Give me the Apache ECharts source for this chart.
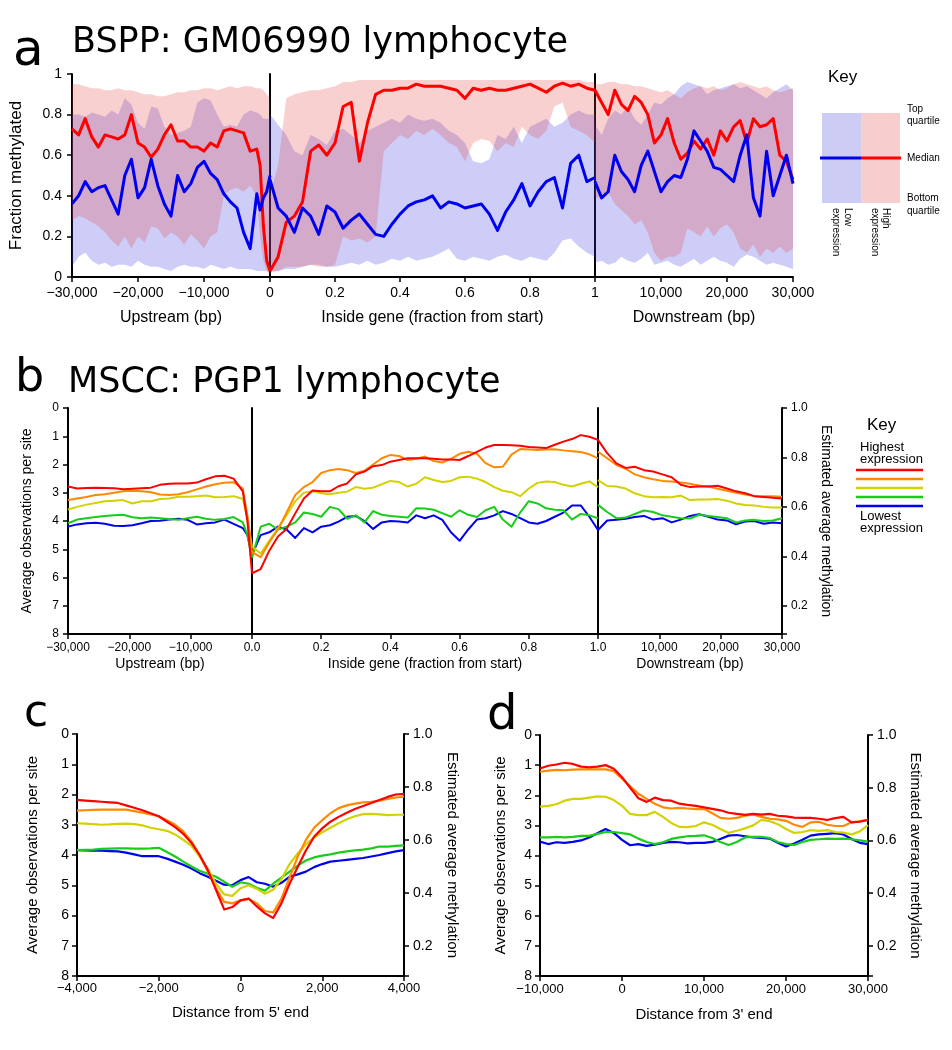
<!DOCTYPE html>
<html><head><meta charset="utf-8">
<script src="https://cdn.jsdelivr.net/npm/echarts/dist/echarts.min.js"></script>
<style>html,body{margin:0;padding:0;background:#fff}#chart{width:952px;height:1050px}</style>
</head><body><div id="chart"></div>
<script>
// ---------------- Panel a (BSPP) ----------------
const aUpX = [-30000,-29000,-28000,-27000,-26000,-25000,-24000,-23000,-22000,-21000,-20000,-19000,-18000,-17000,-16000,-15000,-14000,-13000,-12000,-11000,-10000,-9000,-8000,-7000,-6000,-5000,-4000,-3000,-2000,-1500,-1000,-500,0];
const aInX = [0,0.025,0.05,0.075,0.1,0.125,0.15,0.175,0.2,0.225,0.25,0.275,0.3,0.325,0.35,0.375,0.4,0.425,0.45,0.475,0.5,0.525,0.55,0.575,0.6,0.625,0.65,0.675,0.7,0.725,0.75,0.775,0.8,0.825,0.85,0.875,0.9,0.925,0.95,0.975,1];
const aDnX = [0,1000,2000,3000,4000,5000,6000,7000,8000,9000,10000,11000,12000,13000,14000,15000,16000,17000,18000,19000,20000,21000,22000,23000,24000,25000,26000,27000,28000,29000,30000];

const aUpHighMed = [0.73,0.70,0.78,0.69,0.64,0.70,0.69,0.68,0.70,0.80,0.66,0.64,0.59,0.63,0.70,0.75,0.67,0.67,0.64,0.64,0.62,0.66,0.64,0.72,0.73,0.72,0.71,0.62,0.63,0.55,0.25,0.08,0.03];
const aUpLowMed  = [0.36,0.40,0.47,0.42,0.44,0.45,0.38,0.31,0.50,0.58,0.39,0.44,0.58,0.45,0.36,0.30,0.50,0.42,0.46,0.54,0.57,0.51,0.48,0.41,0.37,0.34,0.22,0.14,0.41,0.33,0.39,0.42,0.50];
const aUpHighTop = [0.95,0.95,0.94,0.93,0.93,0.92,0.92,0.93,0.92,0.92,0.91,0.90,0.90,0.89,0.89,0.90,0.91,0.91,0.92,0.92,0.93,0.93,0.92,0.93,0.94,0.93,0.94,0.94,0.93,0.93,0.92,0.90,0.88];
const aUpHighBot = [0.28,0.30,0.29,0.27,0.25,0.22,0.18,0.15,0.20,0.14,0.20,0.17,0.25,0.24,0.19,0.22,0.20,0.16,0.21,0.18,0.14,0.20,0.22,0.40,0.43,0.44,0.42,0.45,0.40,0.20,0.08,0.03,0.01];
const aUpLowTop  = [0.80,0.80,0.79,0.81,0.80,0.79,0.82,0.80,0.88,0.85,0.76,0.73,0.84,0.83,0.74,0.70,0.71,0.72,0.74,0.86,0.88,0.87,0.80,0.74,0.75,0.74,0.80,0.82,0.81,0.80,0.78,0.78,0.78];
const aUpLowBot  = [0.05,0.10,0.12,0.08,0.06,0.07,0.05,0.06,0.06,0.05,0.08,0.06,0.05,0.05,0.04,0.03,0.05,0.06,0.05,0.05,0.04,0.06,0.05,0.04,0.05,0.04,0.04,0.04,0.03,0.03,0.03,0.03,0.02];

const aInHighMed = [0.03,0.10,0.27,0.30,0.37,0.62,0.65,0.60,0.66,0.84,0.86,0.57,0.76,0.90,0.92,0.92,0.93,0.93,0.95,0.94,0.94,0.94,0.93,0.92,0.88,0.93,0.92,0.93,0.92,0.92,0.93,0.94,0.95,0.93,0.91,0.94,0.955,0.94,0.95,0.93,0.92];
const aInLowMed  = [0.48,0.34,0.30,0.22,0.34,0.30,0.21,0.35,0.32,0.24,0.28,0.31,0.26,0.21,0.20,0.26,0.31,0.35,0.37,0.38,0.40,0.34,0.37,0.36,0.34,0.35,0.36,0.31,0.23,0.32,0.38,0.46,0.35,0.42,0.47,0.49,0.34,0.56,0.60,0.47,0.49];
const aInHighTop = [0.40,0.55,0.88,0.90,0.91,0.92,0.92,0.93,0.94,0.96,0.96,0.97,0.97,0.97,0.97,0.97,0.97,0.97,0.97,0.97,0.97,0.97,0.97,0.97,0.97,0.97,0.97,0.97,0.97,0.97,0.97,0.97,0.97,0.97,0.97,0.97,0.97,0.97,0.97,0.96,0.96];
const aInHighBot = [0.02,0.03,0.05,0.05,0.05,0.06,0.05,0.05,0.06,0.20,0.18,0.19,0.17,0.20,0.62,0.66,0.70,0.68,0.72,0.70,0.73,0.70,0.66,0.64,0.57,0.66,0.68,0.67,0.62,0.66,0.64,0.74,0.70,0.68,0.72,0.84,0.86,0.74,0.72,0.70,0.66];
const aInLowTop  = [0.80,0.75,0.70,0.62,0.60,0.70,0.68,0.65,0.72,0.73,0.70,0.66,0.72,0.74,0.76,0.78,0.76,0.80,0.78,0.77,0.78,0.76,0.72,0.70,0.66,0.57,0.56,0.58,0.70,0.68,0.74,0.66,0.74,0.76,0.78,0.74,0.76,0.80,0.82,0.80,0.80];
const aInLowBot  = [0.03,0.03,0.04,0.04,0.05,0.06,0.06,0.05,0.05,0.06,0.07,0.06,0.08,0.06,0.07,0.09,0.08,0.10,0.08,0.09,0.10,0.12,0.14,0.09,0.08,0.10,0.09,0.08,0.10,0.11,0.09,0.08,0.10,0.09,0.08,0.12,0.18,0.19,0.15,0.12,0.10];

const aDnHighMed = [0.92,0.86,0.80,0.92,0.85,0.82,0.89,0.86,0.80,0.66,0.70,0.78,0.66,0.58,0.61,0.67,0.63,0.68,0.60,0.72,0.67,0.74,0.77,0.66,0.78,0.74,0.75,0.78,0.60,0.57,0.48];
const aDnLowMed  = [0.47,0.39,0.42,0.60,0.52,0.48,0.42,0.55,0.62,0.52,0.42,0.47,0.50,0.49,0.58,0.72,0.67,0.62,0.54,0.53,0.50,0.47,0.60,0.70,0.39,0.30,0.62,0.40,0.50,0.60,0.46];
const aDnHighTop = [0.95,0.95,0.96,0.96,0.95,0.95,0.94,0.94,0.93,0.92,0.91,0.92,0.90,0.88,0.91,0.93,0.94,0.93,0.94,0.92,0.93,0.95,0.96,0.95,0.94,0.93,0.94,0.92,0.91,0.92,0.93];
const aDnHighBot = [0.40,0.38,0.42,0.36,0.33,0.30,0.26,0.28,0.22,0.12,0.08,0.10,0.10,0.12,0.24,0.22,0.20,0.25,0.20,0.24,0.26,0.22,0.14,0.12,0.16,0.10,0.14,0.12,0.15,0.12,0.14];
const aDnLowTop  = [0.75,0.70,0.78,0.82,0.80,0.84,0.78,0.75,0.80,0.86,0.85,0.88,0.90,0.94,0.96,0.95,0.94,0.90,0.92,0.93,0.94,0.95,0.93,0.94,0.92,0.90,0.88,0.91,0.93,0.95,0.92];
const aDnLowBot  = [0.07,0.08,0.06,0.07,0.10,0.08,0.07,0.09,0.12,0.06,0.07,0.08,0.06,0.05,0.07,0.09,0.06,0.08,0.10,0.08,0.07,0.05,0.09,0.11,0.10,0.08,0.06,0.07,0.06,0.05,0.04];

// ---------------- Panel b (MSCC) ----------------
const bUpX = [-30000,-28500,-27000,-25500,-24000,-22500,-21000,-19500,-18000,-16500,-15000,-13500,-12000,-10500,-9000,-7500,-6000,-4500,-3000,-1500,-750,0];
const bInX = [0,0.025,0.05,0.075,0.1,0.125,0.15,0.175,0.2,0.225,0.25,0.275,0.3,0.325,0.35,0.375,0.4,0.425,0.45,0.475,0.5,0.525,0.55,0.575,0.6,0.625,0.65,0.675,0.7,0.725,0.75,0.775,0.8,0.825,0.85,0.875,0.9,0.925,0.95,0.975,1];
const bDnX = [0,1500,3000,4500,6000,7500,9000,10500,12000,13500,15000,16500,18000,19500,21000,22500,24000,25500,27000,28500,30000];

const bUpHighest = [2.78,2.85,2.83,2.82,2.83,2.84,2.88,2.86,2.84,2.82,2.72,2.68,2.67,2.67,2.64,2.52,2.42,2.40,2.50,2.95,4.00,5.85];
const bUpHigh    = [3.26,3.20,3.15,3.08,3.05,3.00,2.95,2.93,2.95,2.98,3.06,3.08,3.05,2.98,2.88,2.78,2.70,2.65,2.63,2.85,3.80,5.10];
const bUpMid     = [3.59,3.50,3.42,3.36,3.30,3.28,3.26,3.38,3.30,3.30,3.22,3.20,3.14,3.14,3.12,3.10,3.16,3.15,3.12,3.22,3.90,4.90];
const bUpLow     = [4.08,3.95,3.90,3.86,3.82,3.80,3.78,3.87,3.90,3.88,3.90,3.93,3.96,3.90,3.85,3.92,3.96,3.93,3.86,4.05,4.50,5.30];
const bUpLowest  = [4.20,4.12,4.08,4.06,4.10,4.17,4.18,4.15,4.08,4.00,3.99,3.95,3.92,3.96,4.12,4.08,4.05,3.95,4.10,4.25,4.50,5.20];

const bInHighest = [5.85,5.70,5.05,4.55,4.28,3.73,3.20,2.92,2.95,2.95,2.77,2.67,2.35,2.25,2.06,2.02,1.90,1.84,1.78,1.78,1.78,1.80,1.82,1.82,1.84,1.70,1.55,1.40,1.31,1.31,1.32,1.34,1.38,1.40,1.42,1.30,1.19,1.10,0.96,1.02,1.13];
const bInHigh    = [5.10,5.28,4.75,4.30,3.70,3.08,2.80,2.62,2.30,2.20,2.16,2.20,2.30,2.22,2.00,1.78,1.66,1.70,1.84,1.80,1.72,1.88,1.93,1.80,1.62,1.55,1.62,1.95,2.10,2.08,1.65,1.45,1.47,1.49,1.47,1.46,1.50,1.53,1.56,1.64,1.78];
const bInMid     = [4.90,5.15,4.70,4.25,3.80,3.30,3.00,2.95,3.02,3.05,3.00,2.96,2.80,2.86,2.82,2.70,2.58,2.62,2.78,2.68,2.45,2.55,2.62,2.58,2.45,2.43,2.50,2.62,2.80,2.93,2.98,3.12,2.85,2.65,2.60,2.62,2.72,2.78,2.68,2.60,2.80];
const bInLow     = [5.30,4.20,4.10,4.30,4.20,4.05,3.70,3.75,3.85,3.50,3.58,3.92,3.80,4.05,3.65,3.78,3.82,3.85,3.88,3.55,3.56,3.60,3.72,3.85,3.62,3.78,3.86,3.62,3.50,3.95,4.20,3.70,3.30,3.38,3.55,3.60,3.62,3.95,3.75,3.80,3.90];
const bInLowest  = [5.20,4.50,4.40,4.20,4.30,4.60,4.25,4.40,4.20,4.15,4.02,3.85,3.82,4.00,4.28,4.05,4.00,4.02,4.05,3.80,3.90,3.80,3.96,4.40,4.70,4.30,3.95,3.90,3.80,3.65,3.75,3.90,4.05,4.10,4.00,3.85,3.70,3.45,3.45,3.85,4.32];

const bDnHighest = [1.13,1.60,1.96,2.12,2.08,2.20,2.25,2.35,2.45,2.72,2.80,2.78,2.78,2.75,2.85,2.95,3.02,3.12,3.15,3.18,3.20];
const bDnHigh    = [1.55,1.78,2.02,2.15,2.35,2.45,2.52,2.58,2.60,2.64,2.68,2.74,2.78,2.86,2.93,3.00,3.06,3.12,3.12,3.12,3.14];
const bDnMid     = [2.55,2.76,2.78,2.85,3.02,3.12,3.16,3.15,3.16,3.10,3.26,3.24,3.24,3.22,3.28,3.38,3.43,3.45,3.50,3.52,3.52];
const bDnLow     = [3.43,3.68,3.90,3.88,3.75,3.63,3.68,3.80,3.85,3.90,3.91,3.78,3.82,3.86,3.90,4.05,3.98,3.96,4.00,3.98,3.90];
const bDnLowest  = [4.32,3.98,3.96,3.92,3.86,3.82,3.95,3.90,4.05,3.95,3.82,3.76,3.85,3.95,3.98,4.12,4.02,4.00,4.10,4.05,4.08];

// ---------------- Panel c (5' end) ----------------
const cX = [-4000,-3800,-3600,-3400,-3200,-3000,-2800,-2600,-2400,-2200,-2000,-1800,-1600,-1400,-1200,-1000,-800,-600,-400,-200,0,200,400,600,800,1000,1200,1400,1600,1800,2000,2200,2400,2600,2800,3000,3200,3400,3600,3800,4000];
const cHighest = [2.18,2.20,2.22,2.24,2.26,2.28,2.36,2.44,2.52,2.62,2.72,2.90,3.08,3.30,3.60,4.00,4.50,5.15,5.80,5.72,5.50,5.44,5.70,5.93,6.08,5.60,4.95,4.40,3.85,3.40,3.12,2.90,2.74,2.60,2.48,2.38,2.28,2.18,2.08,2.00,1.98];
const cHigh    = [2.53,2.52,2.51,2.50,2.50,2.50,2.50,2.55,2.60,2.66,2.72,2.85,3.00,3.22,3.55,4.00,4.55,5.10,5.55,5.60,5.50,5.45,5.60,5.85,5.90,5.45,4.75,4.05,3.50,3.10,2.85,2.62,2.45,2.36,2.30,2.26,2.24,2.20,2.15,2.10,2.07];
const cMid     = [2.95,2.96,2.98,3.00,2.99,2.97,2.96,2.98,3.02,3.10,3.15,3.20,3.32,3.50,3.70,4.05,4.45,4.95,5.30,5.35,5.10,5.00,5.12,5.28,5.15,4.80,4.30,3.95,3.65,3.42,3.25,3.10,2.95,2.82,2.72,2.65,2.64,2.66,2.68,2.67,2.67];
const cLow     = [3.84,3.83,3.82,3.80,3.79,3.78,3.78,3.79,3.79,3.78,3.76,3.90,4.05,4.22,4.38,4.52,4.62,4.72,4.88,5.05,4.90,4.95,5.08,5.18,4.95,4.75,4.55,4.35,4.18,4.08,4.02,3.98,3.92,3.88,3.85,3.82,3.78,3.72,3.72,3.70,3.68];
const cLowest  = [3.84,3.85,3.86,3.86,3.87,3.88,3.92,3.98,4.04,4.04,4.04,4.12,4.22,4.32,4.45,4.60,4.72,4.85,4.98,5.00,4.83,4.73,4.90,4.95,5.05,4.92,4.72,4.64,4.55,4.40,4.30,4.22,4.19,4.16,4.13,4.10,4.05,4.00,3.94,3.88,3.84];

// ---------------- Panel d (3' end) ----------------
const dX = [-10000,-9000,-8000,-7000,-6000,-5000,-4000,-3000,-2000,-1000,0,1000,2000,3000,4000,5000,6000,7000,8000,9000,10000,11000,12000,13000,14000,15000,16000,17000,18000,19000,20000,21000,22000,23000,24000,25000,26000,27000,28000,29000,30000];
const dHighest = [1.11,1.02,0.98,0.92,0.96,1.05,1.07,1.05,1.00,1.12,1.40,1.75,2.10,2.22,2.08,2.16,2.18,2.28,2.32,2.35,2.40,2.45,2.50,2.58,2.62,2.65,2.62,2.64,2.62,2.68,2.70,2.74,2.75,2.75,2.78,2.82,2.76,2.72,2.90,2.88,2.82];
const dHigh    = [1.22,1.18,1.16,1.17,1.15,1.14,1.13,1.14,1.14,1.20,1.45,1.70,1.95,2.12,2.28,2.40,2.44,2.42,2.44,2.46,2.45,2.60,2.75,2.78,2.75,2.68,2.64,2.72,2.78,2.80,2.85,2.98,3.05,2.90,2.88,2.98,3.02,3.02,2.90,2.86,2.82];
const dMid     = [2.38,2.35,2.30,2.18,2.12,2.12,2.08,2.04,2.05,2.16,2.35,2.62,2.66,2.66,2.55,2.72,2.92,3.05,3.06,3.02,2.90,2.98,3.12,3.25,3.18,3.10,3.00,2.82,2.86,2.96,3.12,3.25,3.22,3.16,3.18,3.16,3.22,3.24,3.30,3.20,2.99];
const dLow     = [3.40,3.40,3.38,3.40,3.38,3.35,3.35,3.28,3.22,3.22,3.26,3.30,3.44,3.55,3.62,3.56,3.45,3.40,3.36,3.35,3.33,3.42,3.55,3.65,3.55,3.40,3.38,3.38,3.42,3.55,3.62,3.65,3.55,3.48,3.46,3.44,3.45,3.44,3.46,3.50,3.54];
const dLowest  = [3.54,3.62,3.56,3.58,3.55,3.50,3.40,3.26,3.12,3.25,3.48,3.66,3.62,3.68,3.64,3.58,3.55,3.56,3.60,3.58,3.58,3.55,3.45,3.34,3.32,3.36,3.40,3.42,3.44,3.58,3.70,3.60,3.48,3.34,3.30,3.28,3.26,3.30,3.45,3.58,3.62];

// Right-axis scale: estimated methylation = 1 - observations / OBS_SCALE
const OBS_SCALE = 8.75;
const METHYL_TICK_STEP = 0.2;

// ---------------- styles ----------------
const FONT = "'Liberation Sans', Arial, Helvetica, sans-serif";
const TFONT = "'DejaVu Sans', sans-serif";
const RED = '#ff0000', ORANGE = '#ff8a00', YELLOW = '#d2d200', GREEN = '#19cc19', BLUE = '#0000f0';
const LOW_FILL = 'rgba(60,60,225,0.26)', HIGH_FILL = 'rgba(232,60,60,0.24)';
const AXL = {color:'#000', width:2};
const TKL = {color:'#000', width:1.5};

function fmtBp(v){
  if (v === 0) return '0';
  const s = String(Math.abs(Math.round(v))).replace(/\B(?=(\d{3})+(?!\d))/g, ',');
  return (v < 0 ? '\u2212' : '') + s;
}
function pairs(xs, ys){ return xs.map((x,i)=>[x, ys[i]]); }

function xAx(g, min, max, interval, fmt, name, fs, nfs, gap, margin){
  return {gridIndex:g, type:'value', min, max, interval, splitLine:{show:false},
    axisLine:{show:true, onZero:false, lineStyle:AXL},
    axisTick:{show:true, inside:false, length:5, lineStyle:TKL},
    axisLabel:{show:true, formatter:fmt, color:'#000', fontSize:fs, fontFamily:FONT, margin, showMinLabel:true, showMaxLabel:true},
    name, nameLocation:'middle', nameGap:gap, nameTextStyle:{fontSize:nfs, fontFamily:FONT, color:'#000'}};
}
function yPlain(g, min, max, inverse){
  return {gridIndex:g, type:'value', min, max, inverse, position:'left', splitLine:{show:false},
    axisLine:{show:true, onZero:false, lineStyle:AXL}, axisTick:{show:false}, axisLabel:{show:false}};
}
function yLab(g, min, max, interval, inverse, pos, fmt, fs, margin, name, nfs, gap, nrot){
  return {gridIndex:g, type:'value', min, max, interval, inverse, position:pos, splitLine:{show:false},
    axisLine:{show:true, onZero:false, lineStyle:AXL},
    axisTick:{show:true, inside:false, length:5, lineStyle:TKL},
    axisLabel:{show:true, formatter:fmt, color:'#000', fontSize:fs, fontFamily:FONT, margin, showMinLabel:true, showMaxLabel:true},
    name, nameLocation:'middle', nameGap:gap, nameRotate:nrot, nameTextStyle:{fontSize:nfs, fontFamily:FONT, color:'#000'}};
}
const methylFmt = v => v > 7.5 ? '' : (1 - v / OBS_SCALE).toFixed(1);

function line(g, xs, ys, color, width, z){
  return {type:'line', xAxisIndex:g, yAxisIndex:g, data:pairs(xs, ys), symbol:'none', showSymbol:false,
    lineStyle:{color, width, join:'round'}, itemStyle:{color}, silent:true, z:z||3, animation:false};
}
function band(g, xs, lo, hi, fill){
  return {type:'custom', xAxisIndex:g, yAxisIndex:g, silent:true, z:1, animation:false,
    data: xs.map((x,i)=>[x, lo[i], hi[i]]), encode:{x:0, y:[1,2]},
    renderItem: function(params, api){
      if (params.dataIndex !== 0) return null;
      const top = xs.map((x,i)=>api.coord([x, hi[i]]));
      const bot = xs.map((x,i)=>api.coord([x, lo[i]])).reverse();
      return {type:'polygon', shape:{points: top.concat(bot)}, style:{fill: fill, stroke: null}};
    }};
}

const grids = [
  {left:72, top:74, width:198, height:203},
  {left:270, top:74, width:325, height:203},
  {left:595, top:74, width:198, height:203},
  {left:68, top:408, width:184, height:226},
  {left:252, top:408, width:346, height:226},
  {left:598, top:408, width:184, height:226},
  {left:77, top:734, width:327, height:242},
  {left:540, top:735, width:328, height:241}
].map(g => Object.assign({containLabel:false, outerBoundsMode:'none', show:false}, g));

const hide0 = v => v === 0 ? '' : fmtBp(v);
const xAxis = [
  xAx(0, -30000, 0, 10000, hide0, 'Upstream (bp)', 14, 16, 33, 9),
  xAx(1, 0, 1, 0.2, v => v === 0 ? '0' : String(Math.round(v*10)/10), 'Inside gene (fraction from start)', 14, 16, 33, 9),
  xAx(2, 0, 30000, 10000, hide0, 'Downstream (bp)', 14, 16, 33, 9),
  xAx(3, -30000, 0, 10000, hide0, 'Upstream (bp)', 12, 14, 23, 8),
  xAx(4, 0, 1, 0.2, v => v.toFixed(1), 'Inside gene (fraction from start)', 12, 14, 23, 8),
  xAx(5, 0, 30000, 10000, hide0, 'Downstream (bp)', 12, 14, 23, 8),
  xAx(6, -4000, 4000, 2000, fmtBp, "Distance from 5' end", 13, 15, 29, 6),
  xAx(7, -10000, 30000, 10000, fmtBp, "Distance from 3' end", 13, 15, 31, 7)
];
const obsFmt = v => String(v);
const yAxis = [
  yLab(0, 0, 1, 0.2, false, 'left', v => String(Math.round(v*10)/10), 14, 10, 'Fraction methylated', 17, 47, 90),
  yPlain(1, 0, 1, false),
  yPlain(2, 0, 1, false),
  yLab(3, 0, 8, 1, true, 'left', obsFmt, 12, 9, 'Average observations per site', 14, 34, 90),
  yPlain(4, 0, 8, true),
  yPlain(5, 0, 8, true),
  yLab(6, 0, 8, 1, true, 'left', obsFmt, 14, 8, 'Average observations per site', 15, 37, 90),
  yLab(7, 0, 8, 1, true, 'left', obsFmt, 14, 8, 'Average observations per site', 15, 32, 90),
  yLab(5, 0, 8, METHYL_TICK_STEP*OBS_SCALE, true, 'right', methylFmt, 12, 9, 'Estimated average methylation', 14, 37, -90),
  yLab(6, 0, 8, METHYL_TICK_STEP*OBS_SCALE, true, 'right', methylFmt, 14, 9, 'Estimated average methylation', 15, 41, -90),
  yLab(7, 0, 8, METHYL_TICK_STEP*OBS_SCALE, true, 'right', methylFmt, 14, 9, 'Estimated average methylation', 15, 40, -90)
];

const series = [];
// panel a: quartile bands and medians
[[0, aUpX, aUpLowBot, aUpLowTop, aUpHighBot, aUpHighTop, aUpHighMed, aUpLowMed],
 [1, aInX, aInLowBot, aInLowTop, aInHighBot, aInHighTop, aInHighMed, aInLowMed],
 [2, aDnX, aDnLowBot, aDnLowTop, aDnHighBot, aDnHighTop, aDnHighMed, aDnLowMed]].forEach(s => {
  const [g, xs, lb, lt, hb, ht, hm, lm] = s;
  series.push(band(g, xs, lb, lt, LOW_FILL));
  series.push(band(g, xs, hb, ht, HIGH_FILL));
  series.push(line(g, xs, hm, RED, 3, 3));
  series.push(line(g, xs, lm, BLUE, 3, 4));
});
// panels b, c, d: five expression classes
[[3, bUpX, [bUpLowest,bUpLow,bUpMid,bUpHigh,bUpHighest]],
 [4, bInX, [bInLowest,bInLow,bInMid,bInHigh,bInHighest]],
 [5, bDnX, [bDnLowest,bDnLow,bDnMid,bDnHigh,bDnHighest]],
 [6, cX, [cLowest,cLow,cMid,cHigh,cHighest]],
 [7, dX, [dLowest,dLow,dMid,dHigh,dHighest]]].forEach(s => {
  const [g, xs, arr] = s;
  const cols = [BLUE, GREEN, YELLOW, ORANGE, RED];
  const w = g >= 6 ? 2.2 : 2;
  arr.forEach((ys, i) => series.push(line(g, xs, ys, cols[i], w, 3 + i)));
});

function txt(x, y, text, size, font){
  return {type:'text', x, y, silent:true, style:{text, font: size + 'px ' + font, fill:'#000', align:'left', verticalAlign:'middle'}};
}
function rtxt(x, y, text, size){
  return {type:'text', x, y, rotation:-Math.PI/2, silent:true, style:{text, font: size + 'px ' + FONT, fill:'#000', align:'left', verticalAlign:'middle'}};
}
const keyB = [RED, ORANGE, YELLOW, GREEN, BLUE];
const graphic = [
  txt(13, 52, 'a', 50, TFONT),
  txt(72, 43, 'BSPP: GM06990 lymphocyte', 35, TFONT),
  txt(15, 379, 'b', 46, TFONT),
  txt(68, 383, 'MSCC: PGP1 lymphocyte', 35, TFONT),
  txt(24, 715, 'c', 44, TFONT),
  txt(487, 717, 'd', 48, TFONT),
  // key a
  txt(828, 77, 'Key', 17, FONT),
  {type:'rect', silent:true, shape:{x:822, y:113, width:39, height:90}, style:{fill:'#ccccf5'}},
  {type:'rect', silent:true, shape:{x:861, y:113, width:39, height:90}, style:{fill:'#f8cdcd'}},
  {type:'line', silent:true, shape:{x1:820, y1:158, x2:861, y2:158}, style:{stroke:BLUE, lineWidth:3}},
  {type:'line', silent:true, shape:{x1:861, y1:158, x2:901, y2:158}, style:{stroke:RED, lineWidth:3}},
  txt(907, 109, 'Top', 10, FONT), txt(907, 121, 'quartile', 10, FONT),
  txt(907, 158, 'Median', 10, FONT),
  txt(907, 198, 'Bottom', 10, FONT), txt(907, 211, 'quartile', 10, FONT),
  rtxt(848, 208, 'Low', 10), rtxt(836, 208, 'expression', 10),
  rtxt(886, 208, 'High', 10), rtxt(875, 208, 'expression', 10),
  // key b
  txt(867, 425, 'Key', 17, FONT),
  txt(860, 447, 'Highest', 13, FONT), txt(860, 459, 'expression', 13, FONT),
  txt(860, 516, 'Lowest', 13, FONT), txt(860, 528, 'expression', 13, FONT)
].concat(keyB.map((c, i) => ({type:'line', silent:true, shape:{x1:856, y1:470 + i*9, x2:923, y2:470 + i*9}, style:{stroke:c, lineWidth:2.5}})));

const chart = echarts.init(document.getElementById('chart'), null, {renderer:'canvas'});
chart.setOption({
  animation:false,
  backgroundColor:'#fff',
  textStyle:{fontFamily:FONT},
  grid:grids, xAxis, yAxis, series, graphic
});
</script></body></html>
